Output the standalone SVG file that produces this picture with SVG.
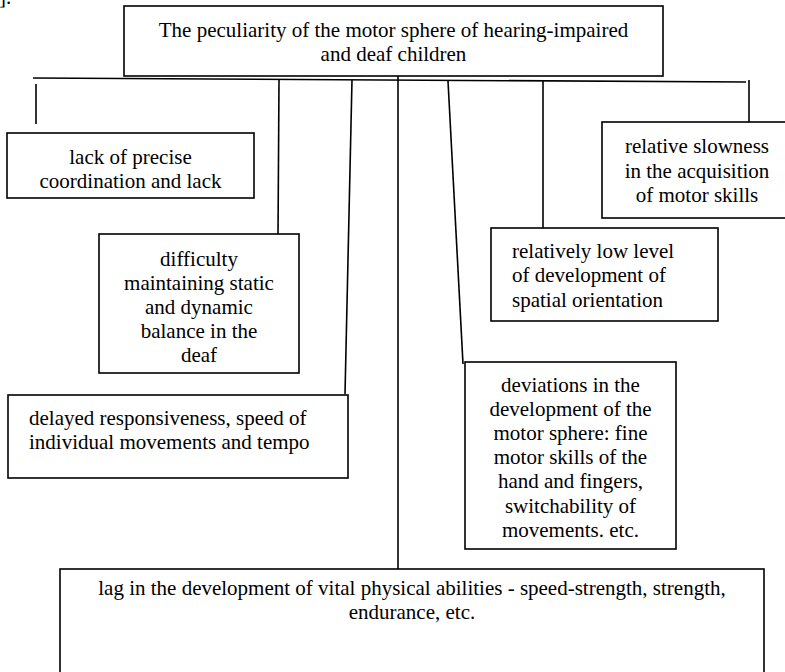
<svg xmlns="http://www.w3.org/2000/svg" width="785" height="672" viewBox="0 0 785 672">
<style>
.box{fill:#fff;stroke:#000;stroke-width:1.6}
.ln{stroke:#000;stroke-width:1.6;fill:none}
text{font-family:"Liberation Serif","Times New Roman",serif;font-size:21px;fill:#000}
.c{text-anchor:middle}
</style>
<rect width="785" height="672" fill="#fff"/>
<text x="-1" y="4">].</text>
<g id="connectors">
<line class="ln" x1="33" y1="78" x2="746" y2="82"/>
<line class="ln" x1="36" y1="84" x2="36" y2="124"/>
<line class="ln" x1="279" y1="80" x2="278" y2="237"/>
<line class="ln" x1="352" y1="80" x2="345" y2="394"/>
<line class="ln" x1="398" y1="76" x2="398" y2="572"/>
<line class="ln" x1="448" y1="81" x2="463" y2="364"/>
<line class="ln" x1="543" y1="81" x2="543" y2="231"/>
<line class="ln" x1="749" y1="80" x2="749" y2="127"/>
</g>
<g id="root">
<rect class="box" x="124" y="6" width="539" height="70"/>
<text class="c" x="393.5" y="37">The peculiarity of the motor sphere of hearing-impaired</text>
<text class="c" x="393.5" y="61">and deaf children</text>
</g>
<g id="n-coordination">
<rect class="box" x="7" y="133" width="247" height="65"/>
<text class="c" x="130.5" y="164">lack of precise</text>
<text class="c" x="130.5" y="188">coordination and lack</text>
</g>
<g id="n-balance">
<rect class="box" x="99" y="234" width="200" height="139"/>
<text class="c" x="199" y="266">difficulty</text>
<text class="c" x="199" y="290">maintaining static</text>
<text class="c" x="199" y="314">and dynamic</text>
<text class="c" x="199" y="338">balance in the</text>
<text class="c" x="199" y="362">deaf</text>
</g>
<g id="n-delayed">
<rect class="box" x="8" y="395" width="340" height="83"/>
<text x="29" y="425">delayed responsiveness, speed of</text>
<text x="29" y="449">individual movements and tempo</text>
</g>
<g id="n-spatial">
<rect class="box" x="491" y="228" width="227" height="93"/>
<text x="512" y="258">relatively low level</text>
<text x="512" y="282">of development of</text>
<text x="512" y="307">spatial orientation</text>
</g>
<g id="n-slowness">
<rect class="box" x="602" y="122" width="192" height="96"/>
<text class="c" x="697" y="153">relative slowness</text>
<text class="c" x="697" y="178">in the acquisition</text>
<text class="c" x="697" y="202">of motor skills</text>
</g>
<g id="n-deviations">
<rect class="box" x="465" y="362" width="211" height="187"/>
<text class="c" x="570.5" y="392">deviations in the</text>
<text class="c" x="570.5" y="416">development of the</text>
<text class="c" x="570.5" y="440">motor sphere: fine</text>
<text class="c" x="570.5" y="464">motor skills of the</text>
<text class="c" x="570.5" y="488">hand and fingers,</text>
<text class="c" x="570.5" y="513">switchability of</text>
<text class="c" x="570.5" y="537">movements. etc.</text>
</g>
<g id="n-lag">
<rect class="box" x="60" y="569" width="704" height="120"/>
<text class="c" x="412" y="595">lag in the development of vital physical abilities - speed-strength, strength,</text>
<text class="c" x="412" y="619">endurance, etc.</text>
</g>
</svg>
